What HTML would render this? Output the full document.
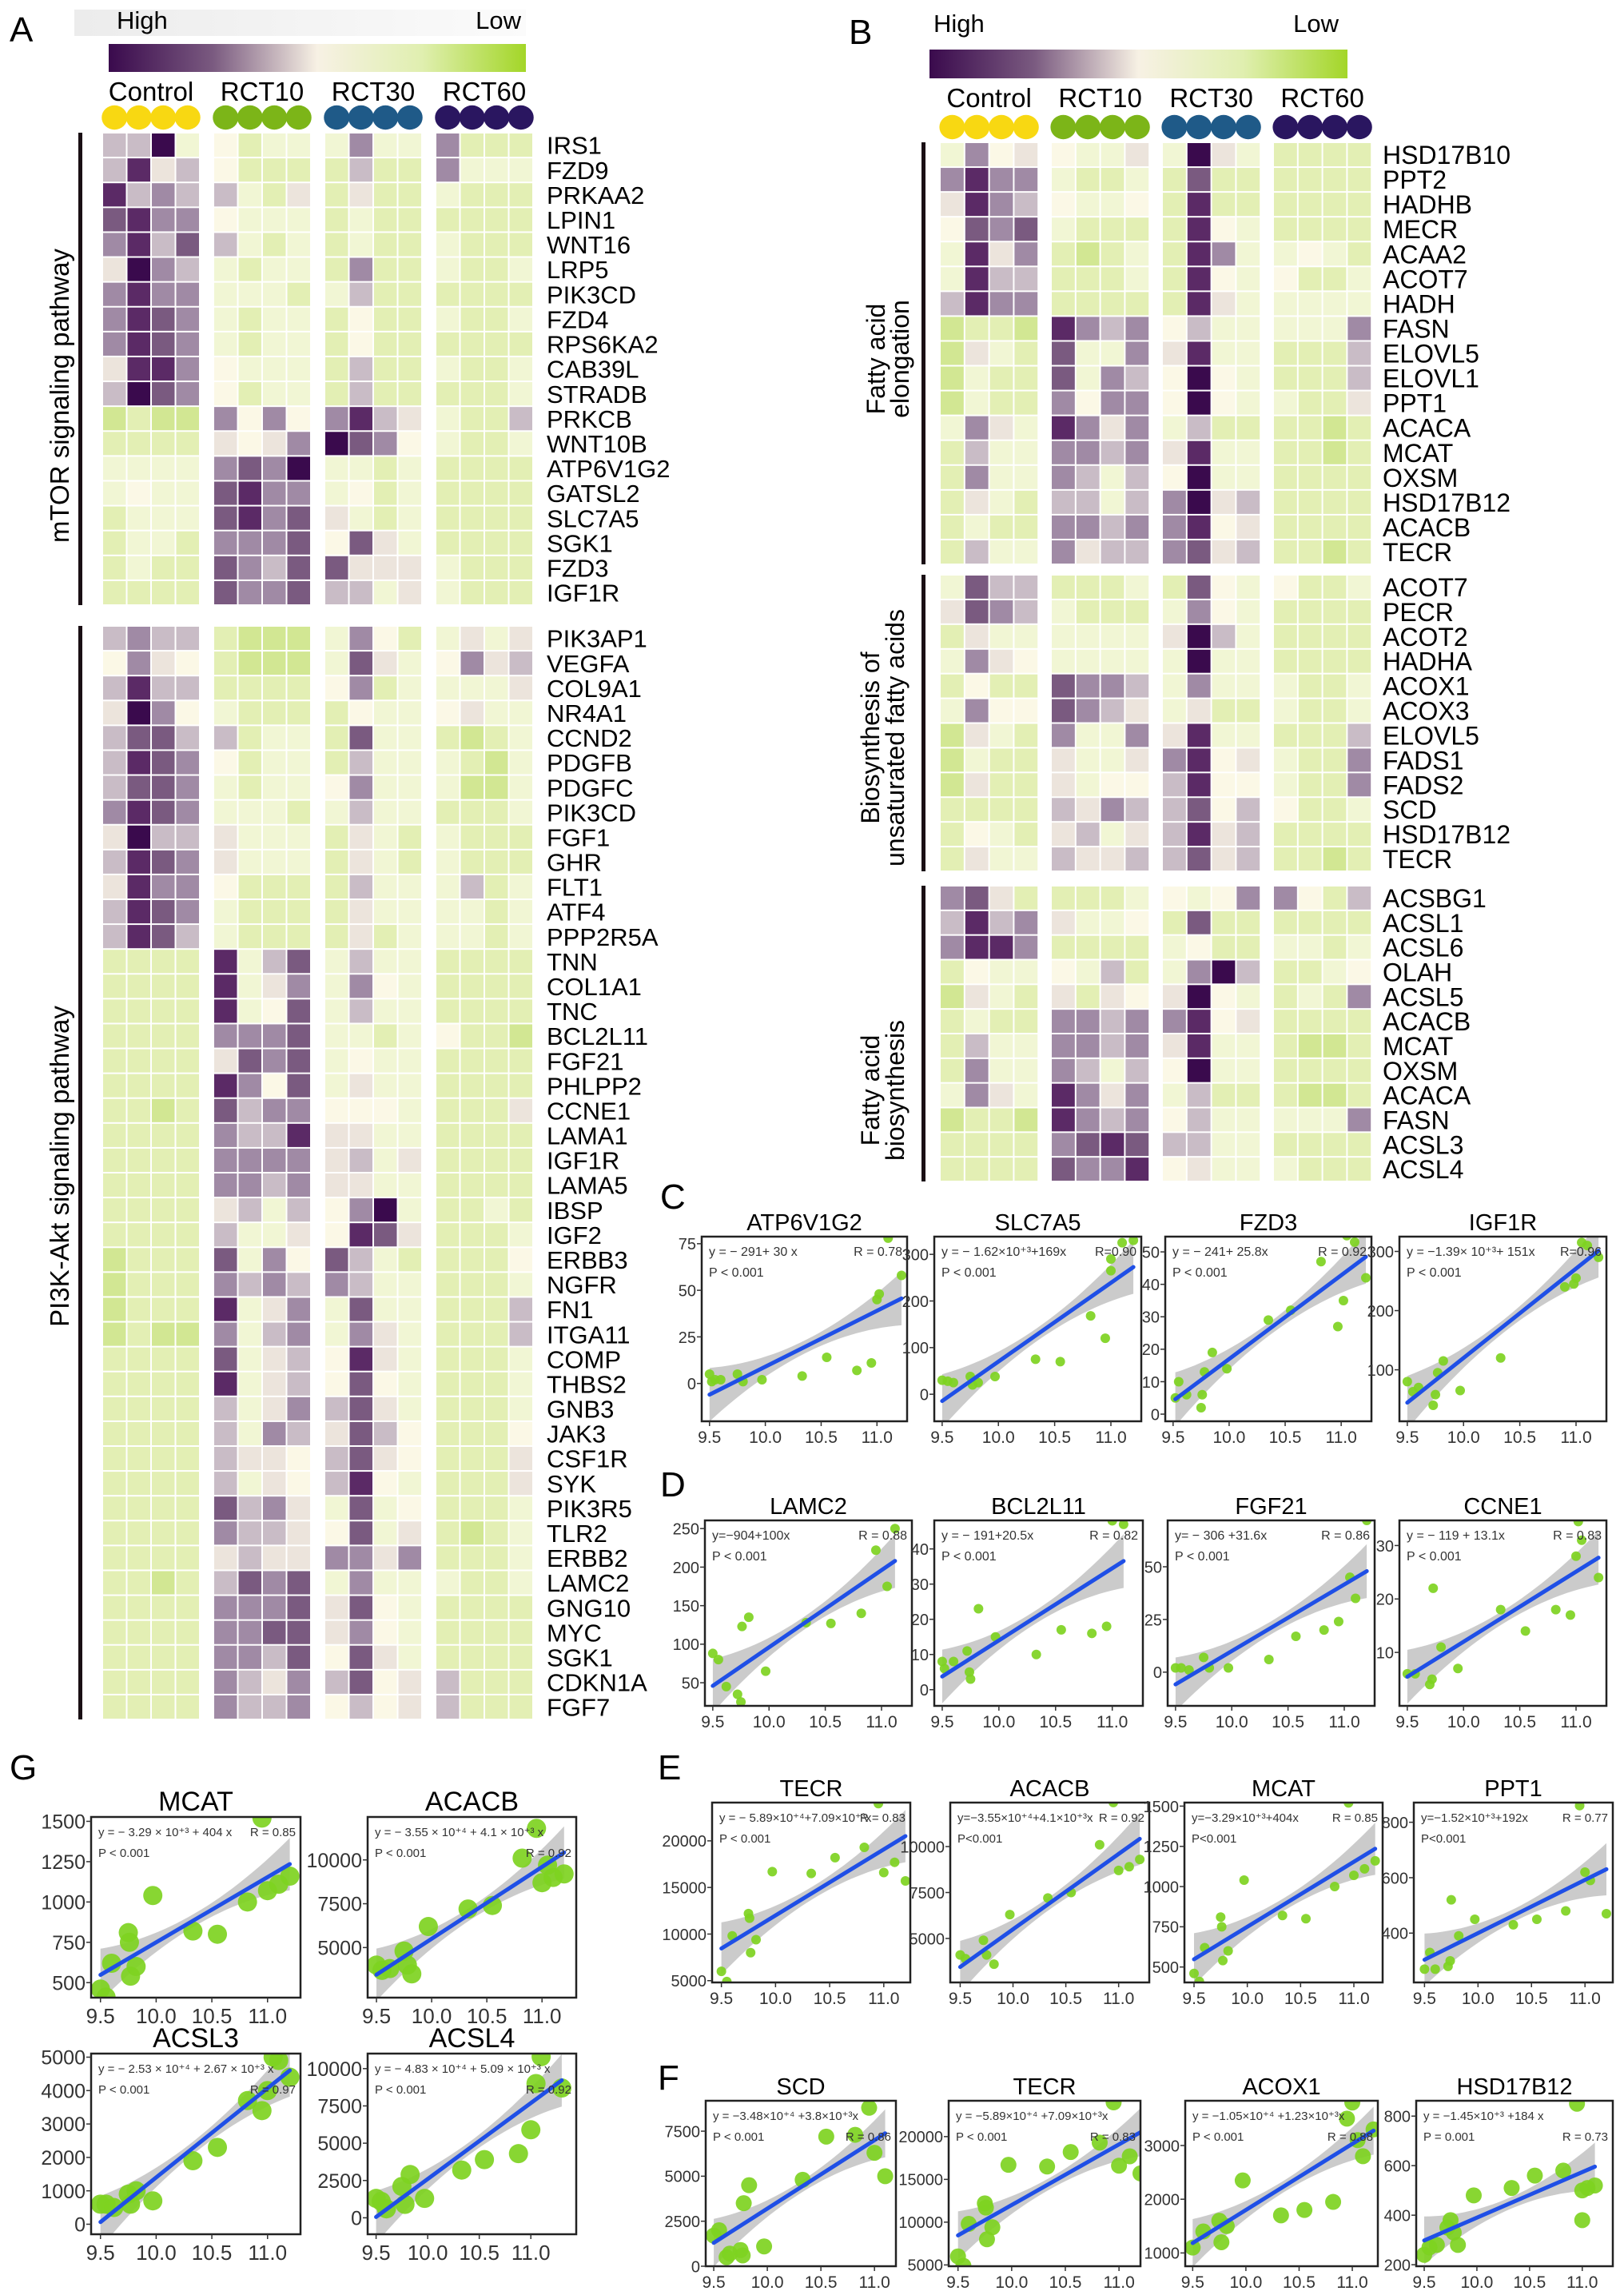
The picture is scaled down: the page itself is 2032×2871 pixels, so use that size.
<!DOCTYPE html>
<html><head><meta charset="utf-8"><title>Heatmaps and correlation plots</title>
<style>
html,body{margin:0;padding:0;background:#fff;}
svg{display:block;font-family:"Liberation Sans",Arial,sans-serif;}
</style></head>
<body>
<svg id="fig" xmlns="http://www.w3.org/2000/svg" width="2032" height="2871" viewBox="0 0 2032 2871">
<defs>
<linearGradient id="cbar" x1="0" x2="1" y1="0" y2="0">
<stop offset="0" stop-color="#3a0a4d"/><stop offset="0.25" stop-color="#7a5a80"/><stop offset="0.5" stop-color="#f7f1e4"/><stop offset="0.75" stop-color="#e0efb0"/><stop offset="1" stop-color="#a3d628"/>
</linearGradient>
<linearGradient id="gband" x1="0" x2="1" y1="0" y2="0"><stop offset="0" stop-color="#ececec"/><stop offset="1" stop-color="#fbfbfb"/></linearGradient>
</defs>
<rect x="0" y="0" width="2032" height="2871" fill="#fff"/>
<text x="12" y="52" font-size="44">A</text>
<text x="1062" y="55" font-size="44">B</text>
<text x="826" y="1512" font-size="44">C</text>
<text x="826" y="1872" font-size="44">D</text>
<text x="823" y="2226" font-size="44">E</text>
<text x="823" y="2614" font-size="44">F</text>
<text x="12" y="2226" font-size="44">G</text>
<rect x="93" y="12" width="565" height="33" fill="url(#gband)"/>
<text x="146" y="36" font-size="31">High</text>
<text x="652" y="36" font-size="31" text-anchor="end">Low</text>
<rect x="136" y="55" width="522" height="35" fill="url(#cbar)"/>
<text x="1168" y="40" font-size="31">High</text>
<text x="1675" y="40" font-size="31" text-anchor="end">Low</text>
<rect x="1163" y="62" width="523" height="36" fill="url(#cbar)"/>
<rect x="98" y="166" width="5" height="591" fill="#1a0f14"/>
<rect x="98" y="783" width="5" height="1368" fill="#1a0f14"/>
<text transform="translate(86,495) rotate(-90)" font-size="33" text-anchor="middle">mTOR signaling pathway</text>
<text transform="translate(86,1459) rotate(-90)" font-size="33" text-anchor="middle">PI3K-Akt signaling pathway</text>
<rect x="1153" y="178" width="5" height="528" fill="#1a0f14"/>
<rect x="1153" y="719" width="5" height="371" fill="#1a0f14"/>
<rect x="1153" y="1108" width="5" height="370" fill="#1a0f14"/>
<text transform="translate(1107,449) rotate(-90)" font-size="32" text-anchor="middle">Fatty acid</text>
<text transform="translate(1137,449) rotate(-90)" font-size="32" text-anchor="middle">elongation</text>
<text transform="translate(1100,923) rotate(-90)" font-size="32" text-anchor="middle">Biosynthesis of</text>
<text transform="translate(1131,923) rotate(-90)" font-size="32" text-anchor="middle">unsaturated fatty acids</text>
<text transform="translate(1100,1364) rotate(-90)" font-size="32" text-anchor="middle">Fatty acid</text>
<text transform="translate(1131,1364) rotate(-90)" font-size="32" text-anchor="middle">biosynthesis</text>
</svg>
<script>
// ---------- heatmap data ----------
const groupNames = ["Control","RCT10","RCT30","RCT60"];
const groupColors = ["#f8d812","#7cb518","#1f5a88","#2a1660"];
const mtorGenes = ["IRS1","FZD9","PRKAA2","LPIN1","WNT16","LRP5","PIK3CD","FZD4","RPS6KA2","CAB39L","STRADB","PRKCB","WNT10B","ATP6V1G2","GATSL2","SLC7A5","SGK1","FZD3","IGF1R"];
const mtorValues = ["4407687773773888","4154688884883777","1434478585887888","2133677787888888","3142478787887888","5034787783887887","3133777874888888","3123787786887887","3123787786888888","5113677784887887","4023687784888887","9899363631457884","8888565302367887","7777323077878888","7677213376878888","8777213257878888","8778333262578888","8788234225557888","8888233244757888"];
const pi3kGenes = ["PIK3AP1","VEGFA","COL9A1","NR4A1","CCND2","PDGFB","PDGFC","PIK3CD","FGF1","GHR","FLT1","ATF4","PPP2R5A","TNN","COL1A1","TNC","BCL2L11","FGF21","PHLPP2","CCNE1","LAMA1","IGF1R","LAMA5","IBSP","IGF2","ERBB3","NGFR","FN1","ITGA11","COMP","THBS2","GNB3","JAK3","CSF1R","SYK","PIK3R5","TLR2","ERBB2","LAMC2","GNG10","MYC","SGK1","CDKN1A","FGF7"];
const pi3kValues = ["4344899973687575","6356899972576354","4144888863877775","5036788886776577","4224487782778987","4123687784777897","4223787763777997","3123777874778887","5044577785787888","4123577785787888","5133688884777487","4123788885777787","4124788885877787","8888174274778888","8888175373678888","8888176274778888","8888333277876889","8888523276778888","8888136275778888","8898243366678885","8888344155778888","8888333354758888","8888334355778888","8888547463078878","8888477561258887","9888273624788886","9888343434778887","9888175372778884","9899374373578884","8888275461578887","8888175462678887","8888475342578887","8888473452468886","8888455642568885","8888475641678885","8888243572768887","8888344562758987","8888545533538887","8898423273777887","8888333252678888","8888332253678888","8888334262578888","8888345342654888","8888344364654888"];
const elongGenes = ["HSD17B10","PPT2","HADHB","MECR","ACAA2","ACOT7","HADH","FASN","ELOVL5","ELOVL1","PPT1","ACACA","MCAT","OXSM","HSD17B12","ACACB","TECR"];
const elongValues = ["7365677570578888","3133788782888888","5134677681888888","6232788881678888","7153898781377678","7144888781676887","4133888881577777","9889134364777773","9578277351778884","9788273460678884","9788363360677885","7357135374888898","8477334351778898","8377347460778888","8578447430548888","8788334331658888","8477354432548898"];
const unsatGenes = ["ACOT7","PECR","ACOT2","HADHA","ACOX1","ACOX3","ELOVL5","FADS1","FADS2","SCD","HSD17B12","TECR"];
const unsatValues = ["7244888782676887","5234788873678888","8577777750478888","7356777770778888","8688233473777887","7366234575887887","9578377351778884","9788577531657883","9588576641667883","8888453442646887","8678547541548888","8577455442548898"];
const biosGenes = ["ACSBG1","ACSL1","ACSL6","OLAH","ACSL5","ACACB","MCAT","OXSM","ACACA","FASN","ACSL3","ACSL4"];
const biosValues = ["3258888767633684","4143577682888888","3113888876887787","8677674873048876","9578585650678783","8788334331658888","8477334351778998","8377347460778888","7357135374888998","9889134364777773","8888321244778888","8888233165777888"];
const palette = ["#3a0a4d","#5b2a66","#7a5a80","#a08aa5","#c9bcc6","#ece4dc","#fbf8e6","#f1f6d4","#e3efb4","#d2e793"];

// ---------- scatter data ----------
const cAtpX = [9.5,9.52,9.55,9.6,9.75,9.8,9.97,10.33,10.55,10.82,10.95,11.0,11.02,11.1,11.22];
const cAtpY = [5,1,2,2,5,1,2,4,14,7,11,45,48,78,58];
const cSlcX = [9.5,9.55,9.6,9.75,9.77,9.82,9.97,10.33,10.55,10.82,10.95,11.0,11.0,11.1,11.2];
const cSlcY = [30,28,25,38,20,25,38,75,70,168,120,265,290,325,330];
const cFzdX = [9.52,9.55,9.62,9.75,9.76,9.78,9.85,9.98,10.35,10.55,10.82,10.97,11.02,11.05,11.12,11.22];
const cFzdY = [5,10,6,2,6,13,19,14,29,32,47,27,35,55,53,42];
const cIgfX = [9.5,9.55,9.6,9.73,9.75,9.77,9.82,9.97,10.33,10.9,10.98,11.0,11.05,11.1,11.2];
const cIgfY = [80,63,70,40,58,95,115,65,120,240,245,255,315,310,290];
const dLamX = [9.5,9.55,9.62,9.72,9.75,9.76,9.82,9.97,10.33,10.55,10.82,10.95,11.05,11.12];
const dLamY = [88,80,45,35,25,123,135,65,128,127,140,222,175,250];
const dBclX = [9.5,9.52,9.6,9.72,9.74,9.75,9.82,9.97,10.33,10.55,10.82,10.95,11.0,11.1];
const dBclY = [8,6,8,11,5,3,23,15,10,17,16,18,48,47];
const dFgfX = [9.5,9.55,9.62,9.75,9.8,9.97,10.33,10.57,10.82,10.95,11.05,11.1,11.2];
const dFgfY = [2,2,1,7,2,2,6,17,20,24,45,35,72];
const dCcnX = [9.5,9.57,9.7,9.72,9.73,9.8,9.95,10.33,10.55,10.82,10.95,11.0,11.05,11.2,11.02];
const dCcnY = [6,6,4,5,22,11,7,18,14,18,17,28,31,24,34.5];
const eTecX = [9.5,9.55,9.6,9.75,9.76,9.77,9.82,9.97,10.33,10.55,10.82,10.95,11.0,11.1,11.2];
const eTecY = [6000,4900,9800,12200,11700,8000,9400,16700,16500,18200,19300,24000,16600,17700,15700];
const eAcaX = [9.5,9.55,9.72,9.75,9.82,9.97,10.33,10.55,10.82,10.95,11.0,11.1,11.2];
const eAcaY = [4100,3900,4900,4100,3600,6300,7200,7500,10100,12400,8700,8900,9300];
const eMcaX = [9.5,9.55,9.6,9.75,9.76,9.77,9.82,9.97,10.33,10.55,10.82,10.95,11.0,11.1,11.2];
const eMcaY = [460,410,620,810,750,540,600,1040,820,800,1000,1520,1070,1110,1160];
const ePptX = [9.5,9.55,9.6,9.72,9.74,9.75,9.82,9.97,10.33,10.55,10.82,10.95,11.0,11.05,11.2];
const ePptY = [270,330,270,280,300,520,390,450,430,450,480,860,620,590,470];
const fScdX = [9.5,9.55,9.62,9.65,9.75,9.77,9.78,9.83,9.97,10.33,10.55,10.82,10.95,11.0,11.1];
const fScdY = [1700,2000,500,700,900,600,3500,4500,1100,4800,7200,7300,8800,6300,5000];
const fTecX = [9.5,9.55,9.6,9.75,9.76,9.77,9.82,9.97,10.33,10.55,10.82,10.95,11.0,11.1,11.2];
const fTecY = [6000,4900,9800,12200,11700,8000,9400,16700,16500,18200,19300,24000,16600,17700,15700];
const fAcoX = [9.5,9.6,9.75,9.77,9.82,9.97,10.33,10.55,10.82,10.95,11.0,11.05,11.1,11.2];
const fAcoY = [1100,1400,1600,1200,1500,2350,1700,1800,1950,3500,3800,3100,2800,3300];
const fHsdX = [9.5,9.55,9.62,9.72,9.75,9.78,9.82,9.97,10.33,10.55,10.82,10.95,11.0,11.05,11.12,11.0];
const fHsdY = [240,270,280,350,380,330,280,480,510,560,580,850,500,510,520,380];
const gMcaX = [9.5,9.55,9.6,9.75,9.76,9.77,9.82,9.97,10.33,10.55,10.82,10.95,11.0,11.1,11.2];
const gMcaY = [460,410,620,810,750,540,600,1040,820,800,1000,1520,1070,1110,1160];
const gAcaX = [9.5,9.55,9.62,9.75,9.78,9.82,9.97,10.33,10.55,10.82,10.95,11.0,11.1,11.2,11.05];
const gAcaY = [4000,3700,3800,4800,4000,3500,6200,7200,7400,10100,11800,8700,9000,9200,9700];
const gAs3X = [9.5,9.55,9.62,9.75,9.77,9.82,9.97,10.33,10.55,10.82,10.95,11.0,11.05,11.1,11.2];
const gAs3Y = [600,600,500,900,600,1000,700,1900,2300,3700,3400,4000,5000,4900,4400];
const gAs4X = [9.5,9.55,9.6,9.75,9.78,9.83,9.97,10.33,10.55,10.88,11.0,11.05,11.1,11.3];
const gAs4Y = [1300,1100,600,2100,900,2900,1300,3200,3900,4300,5900,9000,10800,8700];
const regIntercept = [-291,-1620,-241,-1390,-904,-191,-306,-119,-58900,-35500,-3290,-1520,-34800,-58900,-10500,-1450,-3290,-35500,-25300,-48300];
const regSlope = [30,169,25.8,151,100,20.5,31.6,13.1,7090,4100,404,192,3800,7090,1230,184,404,4100,2670,5090];
const plotTitles = ["ATP6V1G2","SLC7A5","FZD3","IGF1R","LAMC2","BCL2L11","FGF21","CCNE1","TECR","ACACB","MCAT","PPT1","SCD","TECR","ACOX1","HSD17B12","MCAT","ACACB","ACSL3","ACSL4"];
const plotEq = ["y = \u2212 291+ 30 x","y = \u2212 1.62\u00d710\u207a\u00b3+169x","y = \u2212 241+ 25.8x","y = \u22121.39\u00d7 10\u207a\u00b3+ 151x","y=\u2212904+100x","y = \u2212 191+20.5x","y= \u2212 306 +31.6x","y = \u2212 119 + 13.1x","y = \u2212 5.89\u00d710\u207a\u2074+7.09\u00d710\u207a\u00b3x","y=\u22123.55\u00d710\u207a\u2074+4.1\u00d710\u207a\u00b3x","y=\u22123.29\u00d710\u207a\u00b3+404x","y=\u22121.52\u00d710\u207a\u00b3+192x","y = \u22123.48\u00d710\u207a\u2074 +3.8\u00d710\u207a\u00b3x","y = \u22125.89\u00d710\u207a\u2074 +7.09\u00d710\u207a\u00b3x","y = \u22121.05\u00d710\u207a\u2074 +1.23\u00d710\u207a\u00b3x","y = \u22121.45\u00d710\u207a\u00b3 +184 x","y = \u2212 3.29 \u00d7 10\u207a\u00b3 + 404 x","y = \u2212 3.55 \u00d7 10\u207a\u2074 + 4.1 \u00d7 10\u207a\u00b3 x","y = \u2212 2.53 \u00d7 10\u207a\u2074 + 2.67 \u00d7 10\u207a\u00b3 x","y = \u2212 4.83 \u00d7 10\u207a\u2074 + 5.09 \u00d7 10\u207a\u00b3 x"];
const plotP = ["P < 0.001","P < 0.001","P < 0.001","P < 0.001","P < 0.001","P < 0.001","P < 0.001","P < 0.001","P < 0.001","P<0.001","P<0.001","P<0.001","P < 0.001","P < 0.001","P < 0.001","P = 0.001","P < 0.001","P < 0.001","P < 0.001","P < 0.001"];
const plotR = ["R = 0.78","R=0.90","R = 0.92","R=0.96","R = 0.88","R = 0.82","R = 0.86","R = 0.83","R = 0.83","R = 0.92","R = 0.85","R = 0.77","R = 0.86","R = 0.83","R = 0.88","R = 0.73","R = 0.85","R = 0.92","R = 0.97","R = 0.92"];
const plotYTicks = [[0,25,50,75],[0,100,200,300],[0,10,20,30,40,50],[100,200,300],[50,100,150,200,250],[0,10,20,30,40],[0,25,50],[10,20,30],[5000,10000,15000,20000],[5000,7500,10000],[500,750,1000,1250,1500],[400,600,800],[0,2500,5000,7500],[5000,10000,15000,20000],[1000,2000,3000],[200,400,600,800],[500,750,1000,1250,1500],[5000,7500,10000],[0,1000,2000,3000,4000,5000],[0,2500,5000,7500,10000]];
const xTicks = [9.5,10.0,10.5,11.0];
const xTickLabels = ["9.5","10.0","10.5","11.0"];

// ---------- layout (pixel geometry) ----------
const seriesX = [cAtpX,cSlcX,cFzdX,cIgfX,dLamX,dBclX,dFgfX,dCcnX,eTecX,eAcaX,eMcaX,ePptX,fScdX,fTecX,fAcoX,fHsdX,gMcaX,gAcaX,gAs3X,gAs4X];
const seriesY = [cAtpY,cSlcY,cFzdY,cIgfY,dLamY,dBclY,dFgfY,dCcnY,eTecY,eAcaY,eMcaY,ePptY,fScdY,fTecY,fAcoY,fHsdY,gMcaY,gAcaY,gAs3Y,gAs4Y];
const layout = [
 {box:[878,1547,1135,1778],xd:[9.43,11.27],yd:[-20.3,78.8],r:6,fs:21,ef:16,rRow:0},
 {box:[1169,1547,1428,1778],xd:[9.43,11.27],yd:[-58,338],r:6,fs:21,ef:16,rRow:0},
 {box:[1458,1547,1716,1778],xd:[9.43,11.27],yd:[-2.2,54.7],r:6,fs:21,ef:16,rRow:0},
 {box:[1751,1547,2010,1778],xd:[9.43,11.27],yd:[13,325],r:6,fs:21,ef:16,rRow:0},
 {box:[882,1902,1141,2134],xd:[9.43,11.27],yd:[20,260.6],r:6,fs:21,ef:16,rRow:0},
 {box:[1169,1902,1430,2134],xd:[9.43,11.27],yd:[-4.6,48.1],r:6,fs:21,ef:16,rRow:0},
 {box:[1461,1902,1720,2134],xd:[9.43,11.27],yd:[-16,72],r:6,fs:21,ef:16,rRow:0},
 {box:[1751,1902,2010,2134],xd:[9.43,11.27],yd:[0,34.7],r:6,fs:21,ef:16,rRow:0},
 {box:[891,2255,1139,2480],xd:[9.414,11.245],yd:[4808,24106],r:6,fs:21,ef:15,rRow:0},
 {box:[1189,2255,1438,2480],xd:[9.406,11.29],yd:[2607,12393],r:6,fs:21,ef:15,rRow:0},
 {box:[1482,2255,1730,2480],xd:[9.41,11.27],yd:[404,1522],r:6,fs:21,ef:15,rRow:0},
 {box:[1769,2255,2018,2480],xd:[9.40,11.26],yd:[222,871],r:6,fs:21,ef:15,rRow:0},
 {box:[883,2628,1121,2835],xd:[9.425,11.2],yd:[0,9190],r:10,fs:21,ef:15,rRow:1},
 {box:[1187,2628,1427,2835],xd:[9.413,11.2],yd:[4850,24190],r:10,fs:21,ef:15,rRow:1},
 {box:[1483,2628,1724,2835],xd:[9.43,11.24],yd:[753,3833],r:10,fs:21,ef:15,rRow:1},
 {box:[1772,2628,2018,2835],xd:[9.424,11.29],yd:[194,862],r:10,fs:21,ef:15,rRow:1},
 {box:[114,2273,376,2499],xd:[9.416,11.296],yd:[407,1527],r:12,fs:26,ef:15,rRow:0},
 {box:[460,2273,721,2499],xd:[9.42,11.31],yd:[2143,12449],r:12,fs:26,ef:15,rRow:1},
 {box:[114,2569,376,2795],xd:[9.416,11.296],yd:[-300,5107],r:12,fs:26,ef:15,rRow:1},
 {box:[460,2569,721,2795],xd:[9.418,11.44],yd:[-1103,11007],r:12,fs:26,ef:15,rRow:1}
];

const NS = 'http://www.w3.org/2000/svg';
const svg = document.getElementById('fig');
function mk(tag, attrs, parent) {
  const e = document.createElementNS(NS, tag);
  for (const k in attrs) e.setAttribute(k, attrs[k]);
  (parent || svg).appendChild(e);
  return e;
}

function drawHeaders(gx, cw, labelY, dotY, dotR, fs) {
  gx.forEach((x0, g) => {
    const t = mk('text', {x: x0 + 2 * cw, y: labelY, 'font-size': fs, 'text-anchor': 'middle'});
    t.textContent = groupNames[g];
    
    
    for (let i = 0; i < 4; i++) {
      const c = mk('ellipse', {cx: x0 + cw * (i + 0.5), cy: dotY, rx: dotR, ry: dotR * 0.95, fill: groupColors[g]});
      
      
    }
  });
}

function drawHeatmap(genes, values, top, bottom, gx, cw, labelX, fs, prefix) {
  const rh = (bottom - top) / genes.length;
  const g = mk('g', {});
  
  
  genes.forEach((gene, r) => {
    const vals = values[r];
    for (let c = 0; c < 16; c++) {
      const grp = Math.floor(c / 4), k = c % 4;
      const v = parseInt(vals[c], 10);
      const rect = mk('rect', {x: gx[grp] + k * cw + 1, y: top + r * rh + 1, width: cw - 2, height: rh - 2, fill: palette[v]}, g);
      
      
    }
    const t = mk('text', {x: labelX, y: top + r * rh + rh * 0.5 + fs * 0.36, 'font-size': fs}, g);
    t.textContent = gene;
    
    
  });
}

const gxA = [128, 267, 406, 545], cwA = 30.5;
const gxB = [1176, 1315, 1454, 1593], cwB = 30.8;
drawHeaders(gxA, cwA, 126, 147, 16, 33);
drawHeaders(gxB, cwB, 134, 159, 16, 33);
drawHeatmap(mtorGenes, mtorValues, 166, 757, gxA, cwA, 684, 31, 'mtor');
drawHeatmap(pi3kGenes, pi3kValues, 783, 2151, gxA, cwA, 684, 31, 'pi3k');
drawHeatmap(elongGenes, elongValues, 178, 706, gxB, cwB, 1730, 32, 'elongation');
drawHeatmap(unsatGenes, unsatValues, 719, 1090, gxB, cwB, 1730, 32, 'unsaturated');
drawHeatmap(biosGenes, biosValues, 1108, 1478, gxB, cwB, 1730, 32, 'biosynthesis');

layout.forEach((L, i) => {
  const [X0, Y0, X1, Y1] = L.box;
  const xs = seriesX[i], ys = seriesY[i];
  const sx = v => X0 + (v - L.xd[0]) / (L.xd[1] - L.xd[0]) * (X1 - X0);
  const sy = v => Y1 - (v - L.yd[0]) / (L.yd[1] - L.yd[0]) * (Y1 - Y0);
  const g = mk('g', {});
  
  
  const cp = mk('clipPath', {id: 'cp' + i}, g);
  mk('rect', {x: X0, y: Y0, width: X1 - X0, height: Y1 - Y0}, cp);
  const inner = mk('g', {'clip-path': 'url(#cp' + i + ')'}, g);
  const xmin = Math.min(...xs), xmax = Math.max(...xs);
  const xm = (xmin + xmax) / 2, xr = (xmax - xmin) / 2;
  const yr = L.yd[1] - L.yd[0];
  const up = [], lo = [];
  for (let s = 0; s <= 30; s++) {
    const x = xmin + (xmax - xmin) * s / 30;
    const yv = regIntercept[i] + regSlope[i] * x;
    const t = (x - xm) / xr;
    const hw = yr * (0.035 + 0.11 * t * t);
    up.push(sx(x).toFixed(1) + ',' + sy(yv + hw).toFixed(1));
    lo.unshift(sx(x).toFixed(1) + ',' + sy(yv - hw).toFixed(1));
  }
  const band = mk('polygon', {points: up.concat(lo).join(' '), fill: '#b9b9b9', 'fill-opacity': 0.75}, inner);
  
  
  xs.forEach((x, k) => {
    const p = mk('circle', {cx: sx(x), cy: sy(ys[k]), r: L.r, fill: '#7ed321', 'fill-opacity': 0.92}, inner);
    
    
  });
  const ln = mk('line', {x1: sx(xmin), y1: sy(regIntercept[i] + regSlope[i] * xmin), x2: sx(xmax), y2: sy(regIntercept[i] + regSlope[i] * xmax), stroke: '#1f4fe6', 'stroke-width': 5, 'stroke-linecap': 'round'}, inner);
  
  
  const box = mk('rect', {x: X0, y: Y0, width: X1 - X0, height: Y1 - Y0, fill: 'none', stroke: '#222', 'stroke-width': 2.5}, g);
  
  
  const title = mk('text', {x: (X0 + X1) / 2, y: Y0 - 8, 'font-size': L.fs + 8, 'text-anchor': 'middle'}, g);
  title.textContent = plotTitles[i];
  
  
  xTicks.forEach((v, k) => {
    const tk = mk('line', {x1: sx(v), x2: sx(v), y1: Y1, y2: Y1 + 6, stroke: '#333', 'stroke-width': 1.5}, g);
    
    
    const tl = mk('text', {x: sx(v), y: Y1 + L.fs + 6, 'font-size': L.fs, 'text-anchor': 'middle', fill: '#333'}, g);
    tl.textContent = xTickLabels[k];
    
    
  });
  plotYTicks[i].forEach(v => {
    const tk = mk('line', {x1: X0 - 6, x2: X0, y1: sy(v), y2: sy(v), stroke: '#333', 'stroke-width': 1.5}, g);
    
    
    const tl = mk('text', {x: X0 - 7, y: sy(v) + L.fs * 0.35, 'font-size': L.fs - 1, 'text-anchor': 'end', fill: '#333'}, g);
    tl.textContent = String(v);
    
    
  });
  const eq = mk('text', {x: X0 + 9, y: Y0 + 24, 'font-size': L.ef, fill: '#333'}, g);
  eq.textContent = plotEq[i];
  
  
  const pv = mk('text', {x: X0 + 9, y: Y0 + 50, 'font-size': L.ef, fill: '#333'}, g);
  pv.textContent = plotP[i];
  
  
  const rv = mk('text', {x: X1 - 6, y: L.rRow ? Y0 + 50 : Y0 + 24, 'font-size': L.ef, 'text-anchor': 'end', fill: '#333'}, g);
  rv.textContent = plotR[i];
  
  
});
</script>
</body></html>
